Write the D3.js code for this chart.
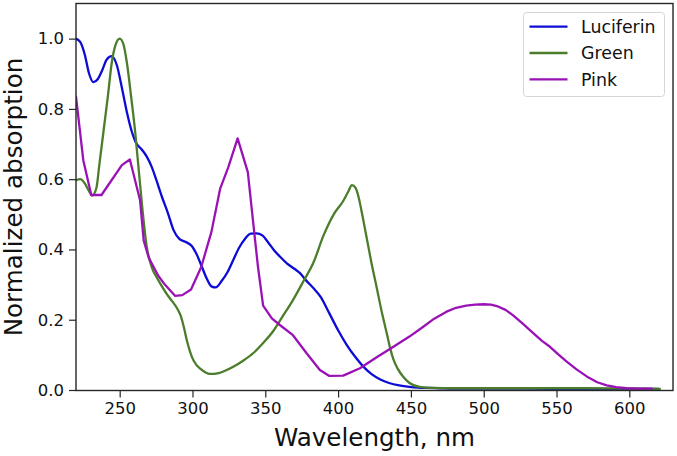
<!DOCTYPE html>
<html>
<head>
<meta charset="utf-8">
<script src="https://cdn.jsdelivr.net/npm/d3@7"></script>
<style>
  html, body { margin: 0; padding: 0; background: #fff; }
  svg { display: block; font-family: "DejaVu Sans", sans-serif; }
</style>
</head>
<body>
<svg id="chart" width="677" height="456"></svg>
<script>
// ---- data ----
const seriesNames = ["Luciferin", "Green", "Pink"];
const seriesColors = ["#0c0cd6", "#4b7d2b", "#9a12b6"];

const luciferinNm = [220, 223, 226, 229, 232, 235, 238, 241, 244.5, 248, 252, 255, 258, 261, 265, 268.5, 272, 275, 279, 283, 287, 291, 295, 299.5, 303, 306.5, 310, 313, 316, 320, 324, 328, 332, 336, 340, 344, 348, 352, 356, 360, 365, 370, 374, 378, 383, 388, 394, 400, 406, 412, 417, 423, 429, 435, 442, 449, 455, 461, 470, 480, 500, 530, 560, 590, 620];
const luciferinVal = [1.0, 0.99, 0.955, 0.9, 0.876, 0.885, 0.91, 0.94, 0.95, 0.925, 0.85, 0.79, 0.74, 0.705, 0.685, 0.665, 0.635, 0.6, 0.55, 0.505, 0.455, 0.43, 0.422, 0.41, 0.385, 0.35, 0.315, 0.295, 0.292, 0.31, 0.335, 0.37, 0.405, 0.43, 0.445, 0.446, 0.44, 0.42, 0.398, 0.38, 0.36, 0.345, 0.332, 0.312, 0.29, 0.265, 0.218, 0.17, 0.128, 0.093, 0.068, 0.045, 0.03, 0.02, 0.013, 0.009, 0.007, 0.006, 0.005, 0.004, 0.004, 0.004, 0.003, 0.003, 0.003];

const greenNm = [220, 223, 226, 229, 231, 234, 236, 239, 242, 244.5, 247, 250, 252.5, 255, 258, 260.5, 263, 265.5, 268.5, 272, 275.5, 279, 282.5, 286, 289.5, 292, 294, 296.5, 299.5, 302.5, 305.5, 309, 312, 314.5, 318, 322, 328, 335, 342, 349, 355.5, 362, 369, 376, 383, 390, 397, 403.5, 407, 409.5, 412, 414, 417, 420, 423, 426.5, 430, 433.5, 436, 438, 441, 445, 449, 456, 465, 480, 520, 560, 600, 621];
const greenVal = [0.597, 0.6, 0.588, 0.566, 0.553, 0.575, 0.64, 0.74, 0.84, 0.93, 0.98, 1.0, 0.985, 0.93, 0.83, 0.74, 0.63, 0.52, 0.41, 0.35, 0.32, 0.295, 0.272, 0.253, 0.232, 0.21, 0.18, 0.135, 0.095, 0.072, 0.06, 0.05, 0.046, 0.046, 0.048, 0.054, 0.066, 0.084, 0.106, 0.136, 0.168, 0.21, 0.256, 0.308, 0.362, 0.44, 0.5, 0.538, 0.565, 0.583, 0.575, 0.55, 0.49, 0.425, 0.36, 0.292, 0.222, 0.16, 0.115, 0.087, 0.06, 0.036, 0.02, 0.009, 0.006, 0.005, 0.005, 0.005, 0.004, 0.003];

const pinkNm = [220, 225, 230.5, 237.5, 251.5, 257, 264, 266.5, 270, 276.5, 281, 288, 293, 299, 306, 313, 319, 324.5, 331, 338, 342.5, 345, 348.5, 354.5, 360, 369, 378.5, 387.5, 394, 403.5, 415, 426.5, 438, 449, 458.5, 466, 474.5, 481, 488, 494, 500, 505, 509, 515, 520, 527, 534, 540, 545.5, 551, 557, 564, 571, 578, 584.5, 591, 598, 607, 615.5];
const pinkVal = [0.835, 0.654, 0.555, 0.555, 0.64, 0.656, 0.54, 0.425, 0.376, 0.325, 0.3, 0.268, 0.27, 0.286, 0.35, 0.45, 0.573, 0.633, 0.716, 0.62, 0.445, 0.35, 0.24, 0.204, 0.185, 0.156, 0.104, 0.057, 0.04, 0.041, 0.062, 0.093, 0.123, 0.152, 0.18, 0.203, 0.223, 0.234, 0.24, 0.243, 0.244, 0.243, 0.239, 0.228, 0.213, 0.188, 0.162, 0.14, 0.123, 0.102, 0.081, 0.058, 0.038, 0.022, 0.013, 0.008, 0.005, 0.004, 0.004];

const xTicks = [250, 300, 350, 400, 450, 500, 550, 600];
const yTicks = [0.0, 0.2, 0.4, 0.6, 0.8, 1.0];
const xLabel = "Wavelength, nm";
const yLabel = "Normalized absorption";

// ---- layout ----
const svg = d3.select("#chart");
const plot = { left: 76, right: 673, top: 3.5, bottom: 390.5 };

const x = d3.scaleLinear().domain([220, 630]).range([plot.left, plot.right]);
const y = d3.scaleLinear().domain([0, 1.1]).range([plot.bottom - 0.5, plot.top]);

const series = [
  { name: seriesNames[0], color: seriesColors[0], nm: luciferinNm, val: luciferinVal, curve: d3.curveMonotoneX },
  { name: seriesNames[1], color: seriesColors[1], nm: greenNm, val: greenVal, curve: d3.curveMonotoneX },
  { name: seriesNames[2], color: seriesColors[2], nm: pinkNm, val: pinkVal, curve: d3.curveLinear }
];

// clip
svg.append("defs").append("clipPath").attr("id", "clip")
  .append("rect").attr("x", plot.left).attr("y", plot.top)
  .attr("width", plot.right - plot.left).attr("height", plot.bottom - plot.top);

const lines = svg.append("g").attr("clip-path", "url(#clip)");
series.forEach(s => {
  const pts = s.nm.map((n, i) => [n, s.val[i]]);
  const line = d3.line().x(d => x(d[0])).y(d => y(d[1])).curve(s.curve);
  lines.append("path")
    .attr("d", line(pts))
    .attr("fill", "none")
    .attr("stroke", s.color)
    .attr("stroke-width", 2.3)
    .attr("stroke-linejoin", "round")
    .attr("stroke-linecap", "round");
});

// axes
const axisColor = "#262626";
const xAxis = d3.axisBottom(x).tickValues(xTicks).tickFormat(d3.format("d")).tickSize(7).tickPadding(5);
const gx = svg.append("g").attr("transform", `translate(0,${plot.bottom})`).call(xAxis);
const yAxis = d3.axisLeft(y).tickValues(yTicks).tickFormat(d3.format(".1f")).tickSize(7).tickPadding(5);
const gy = svg.append("g").attr("transform", `translate(${plot.left},0)`).call(yAxis);
[gx, gy].forEach(g => {
  g.select(".domain").remove();
  g.selectAll(".tick line").attr("stroke", axisColor).attr("stroke-width", 1.2);
  g.selectAll(".tick text").attr("fill", "#111").style("font-size", "16.5px").style("font-family", "DejaVu Sans");
});

// spines
svg.append("rect")
  .attr("x", plot.left).attr("y", plot.top)
  .attr("width", plot.right - plot.left).attr("height", plot.bottom - plot.top)
  .attr("fill", "none").attr("stroke", axisColor).attr("stroke-width", 1.4);

// axis labels
svg.append("text")
  .attr("x", (plot.left + plot.right) / 2).attr("y", 446)
  .attr("text-anchor", "middle")
  .style("font-size", "24.6px").attr("fill", "#111")
  .text(xLabel);
svg.append("text")
  .attr("transform", `translate(21.5,${(plot.top + plot.bottom) / 2}) rotate(-90)`)
  .attr("text-anchor", "middle")
  .style("font-size", "24.6px").attr("fill", "#111")
  .text(yLabel);

// legend
const lg = svg.append("g");
lg.append("rect")
  .attr("x", 523.5).attr("y", 12.5).attr("width", 141).attr("height", 84)
  .attr("rx", 3).attr("fill", "#fff").attr("fill-opacity", 0.8)
  .attr("stroke", "#d6d6d6").attr("stroke-width", 1);
series.forEach((s, i) => {
  const yy = 26.7 + i * 26.3;
  lg.append("line").attr("x1", 529.5).attr("x2", 567.5).attr("y1", yy).attr("y2", yy)
    .attr("stroke", s.color).attr("stroke-width", 2.3);
  lg.append("text").attr("x", 581).attr("y", yy + 6.2)
    .style("font-size", "17.4px").attr("fill", "#111").text(s.name);
});
</script>
</body>
</html>
